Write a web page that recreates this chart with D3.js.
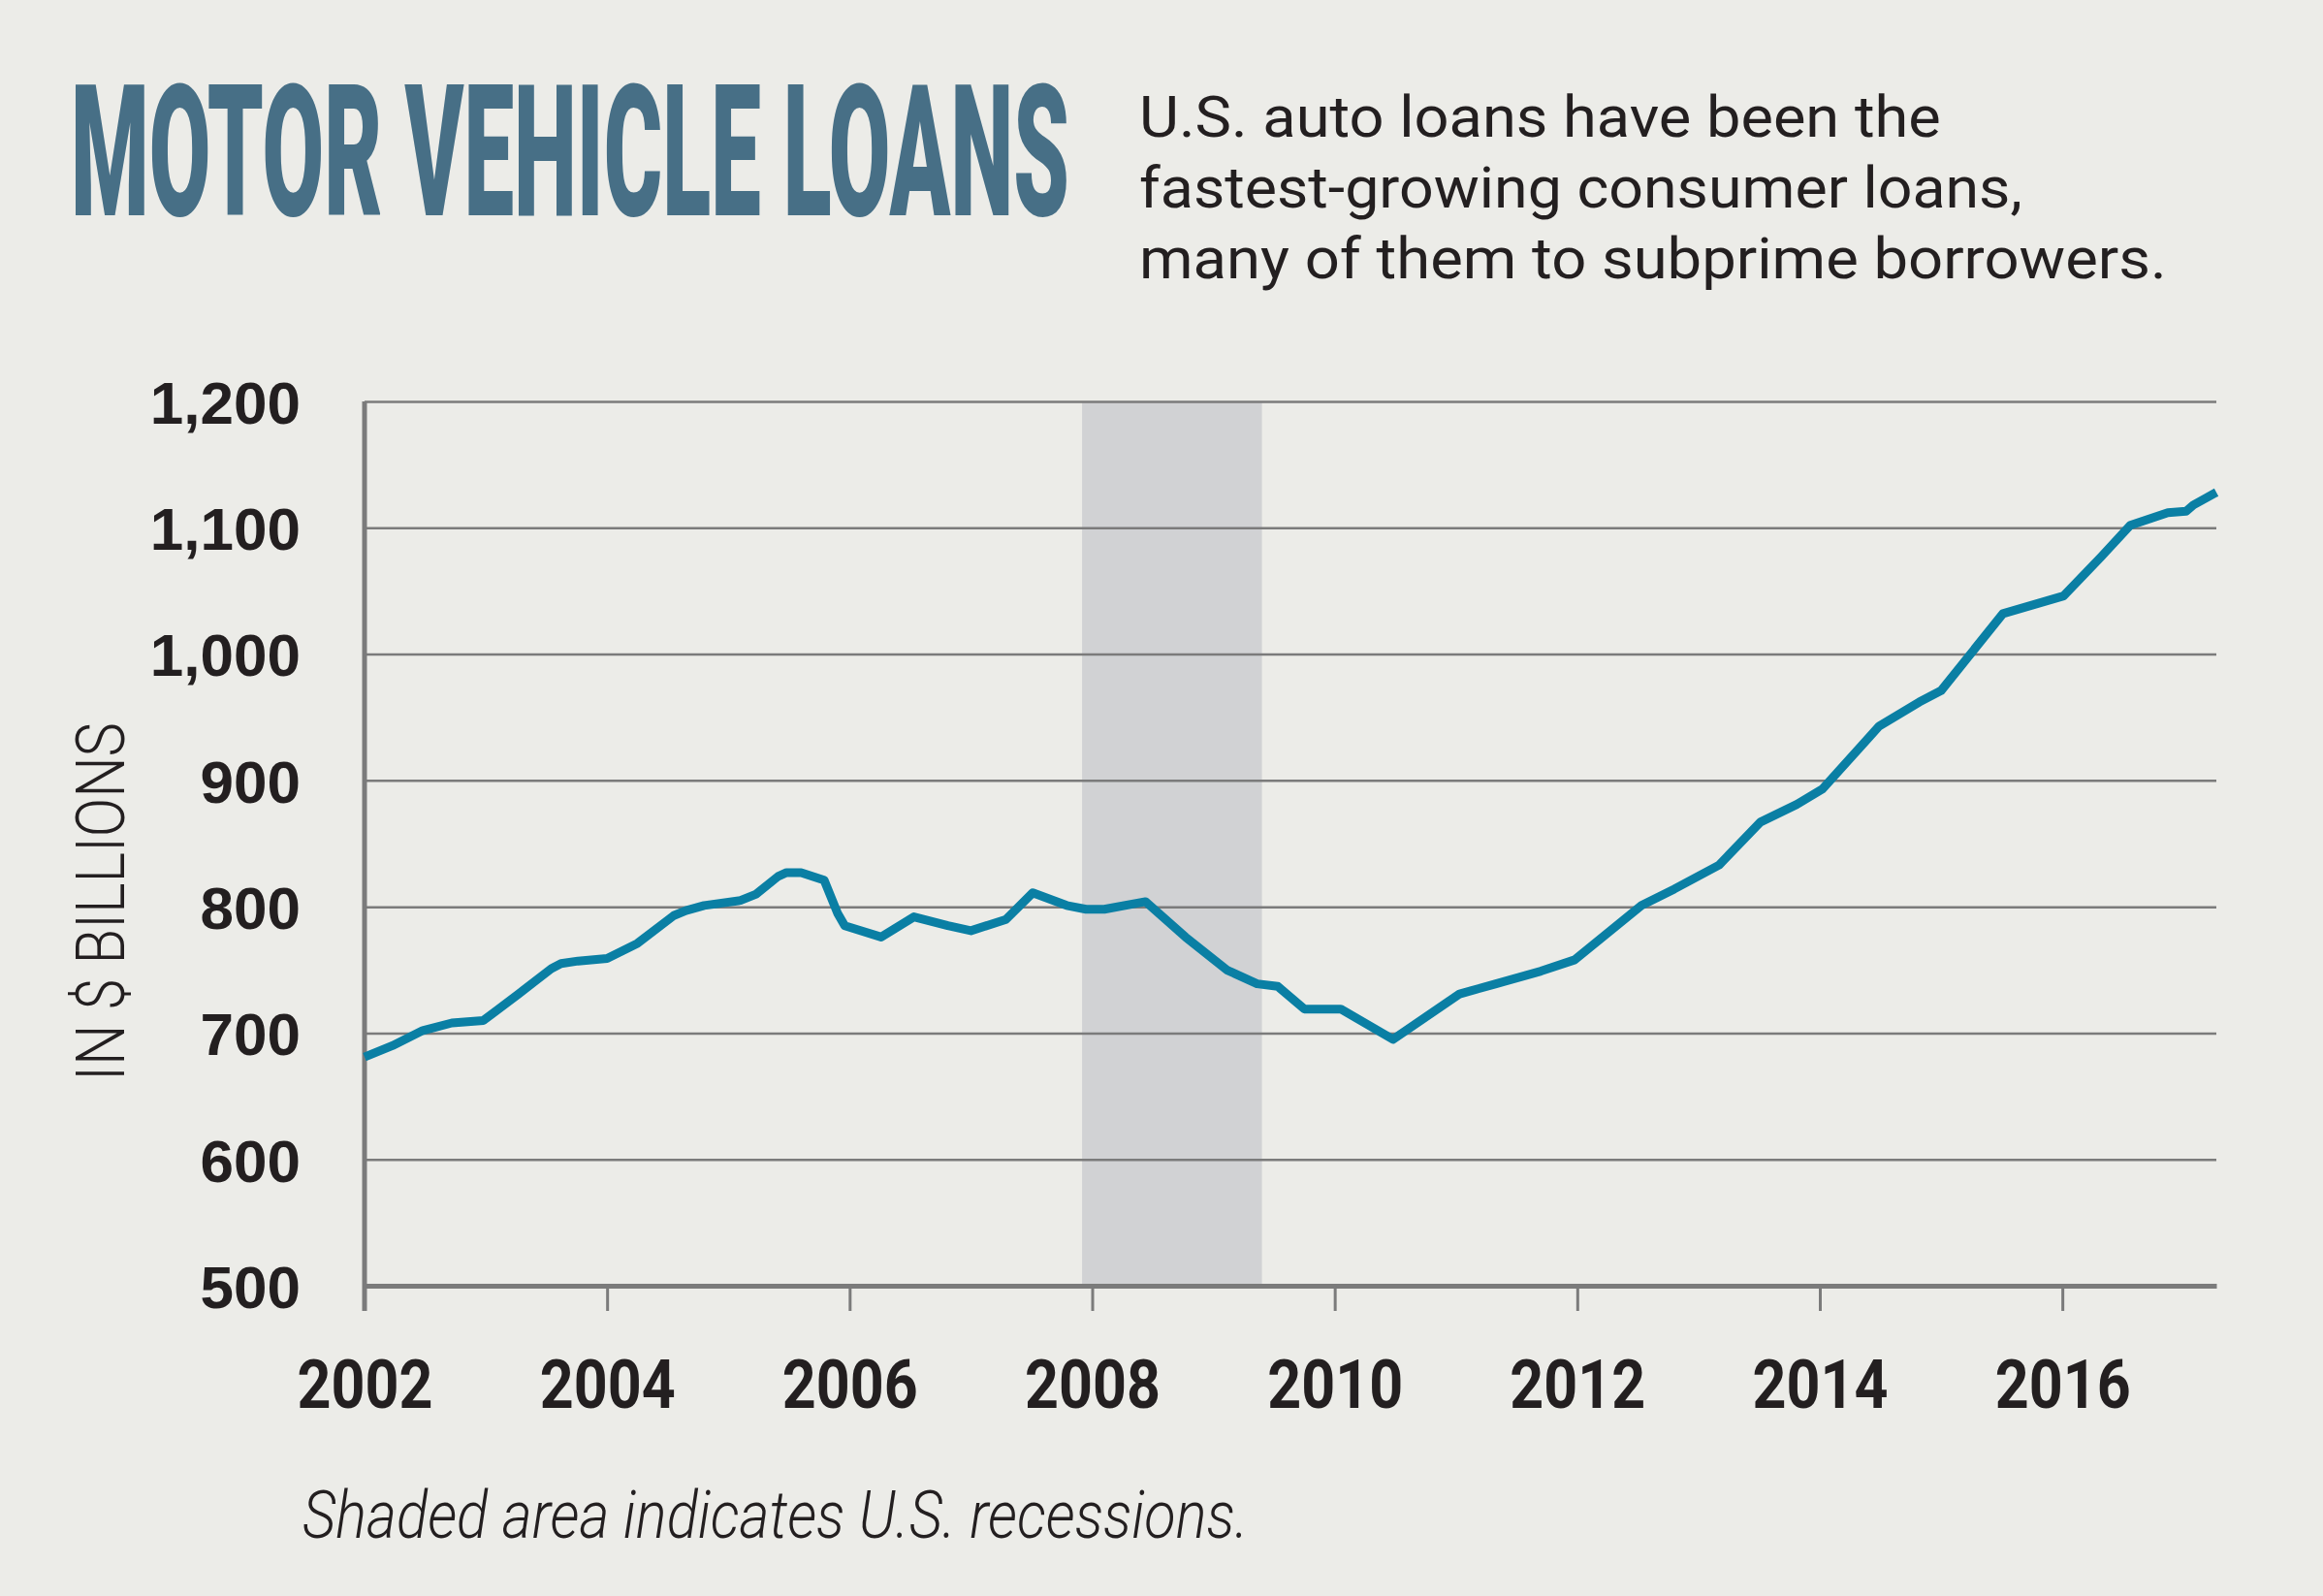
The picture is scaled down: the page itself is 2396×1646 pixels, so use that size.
<!DOCTYPE html>
<html>
<head>
<meta charset="utf-8">
<script src="https://cdn.jsdelivr.net/npm/d3@7"></script>
<style>
  html, body { margin: 0; padding: 0; background: #ecece8; }
  svg { display: block; }
</style>
</head>
<body>
<script>
// ---- data ----
const years = [2002.00, 2002.23, 2002.48, 2002.72, 2002.98, 2003.27, 2003.54, 2003.62, 2003.76, 2004.00,
  2004.25, 2004.55, 2004.65, 2004.80, 2005.10, 2005.23, 2005.41, 2005.48, 2005.60, 2005.79,
  2005.90, 2005.96, 2006.26, 2006.53, 2006.81, 2007.00, 2007.29, 2007.51, 2007.79, 2007.95,
  2008.10, 2008.44, 2008.77, 2009.11, 2009.36, 2009.53, 2009.75, 2010.05, 2010.48, 2011.03,
  2011.33, 2011.70, 2011.98, 2012.53, 2012.80, 2013.17, 2013.51, 2013.81, 2014.02, 2014.49,
  2014.82, 2015.00, 2015.51, 2016.01, 2016.32, 2016.56, 2016.87, 2017.02, 2017.08, 2017.27];
const loans = [681, 690, 702, 708, 710, 731, 751, 755, 757, 759,
  771, 793, 797, 801, 805, 810, 824, 827, 827, 821,
  795, 785, 776, 792, 785, 781, 790, 811, 801, 798,
  798, 804, 776, 750, 739, 737, 719, 719, 695, 731,
  739, 749, 758, 801, 814, 833, 867, 881, 893, 943,
  962, 971, 1032, 1046, 1077, 1102, 1112, 1113, 1118, 1128];
const recession = [2007.917, 2009.40];
const yTicks = [500, 600, 700, 800, 900, 1000, 1100, 1200];
const xTicks = [2002, 2004, 2006, 2008, 2010, 2012, 2014, 2016];
const titleText = "MOTOR VEHICLE LOANS";
const subtitleLines = ["U.S. auto loans have been the", "fastest-growing consumer loans,", "many of them to subprime borrowers."];
const yTitle = "IN $ BILLIONS";
const footnote = "Shaded area indicates U.S. recessions.";

// ---- layout ----
const W = 2396, H = 1646;
const svg = d3.select("body").append("svg").attr("width", W).attr("height", H);
svg.append("rect").attr("width", W).attr("height", H).attr("fill", "#ecece8");

const x = d3.scaleLinear().domain([2002, years[years.length - 1]]).range([376, 2286]);
const y = d3.scaleLinear().domain([500, 1200]).range([1326, 414]);
const gridColor = "#7b7b7b";

// place text at (tx,ty) and squeeze it horizontally to a target width
function fitText(sel, tx, ty, width, rotate) {
  const natural = sel.node().getComputedTextLength();
  const k = width / natural;
  sel.attr("x", 0).attr("y", 0)
    .attr("transform", `translate(${tx},${ty})` + (rotate ? ` rotate(${rotate})` : "") + ` scale(${k},1)`);
}

// title
fitText(svg.append("text").text(titleText)
  .attr("font-family", "Roboto, 'Liberation Sans Narrow', sans-serif")
  .attr("font-weight", 900).attr("font-size", 190)
  .attr("fill", "#476f86"), 73, 222, 1030);

// subtitle
const subW = [827, 911, 1060];
const subY = [141, 214, 287];
subtitleLines.forEach((s, i) => {
  fitText(svg.append("text").text(s)
    .attr("font-family", "Roboto, sans-serif").attr("font-weight", 400)
    .attr("font-size", 60).attr("fill", "#231f20"), 1175, subY[i], subW[i]);
});

// recession band
svg.append("rect")
  .attr("x", x(recession[0])).attr("width", x(recession[1]) - x(recession[0]))
  .attr("y", y(1200)).attr("height", y(500) - y(1200))
  .attr("fill", "#d1d2d4");

// y grid + labels
const yAxis = svg.append("g").attr("transform", `translate(${x.range()[0]},0)`)
  .call(d3.axisLeft(y).tickValues(yTicks).tickSize(-(x.range()[1] - x.range()[0]))
    .tickPadding(66).tickFormat(d3.format(",")));
yAxis.select(".domain").remove();
yAxis.selectAll(".tick line").attr("stroke", gridColor).attr("stroke-width", 2.5);
yAxis.selectAll(".tick text")
  .attr("font-family", "'Liberation Sans', Arial, sans-serif").attr("font-weight", 700)
  .attr("font-size", 62).attr("fill", "#231f20").attr("dy", "0.36em");

// x axis
const xAxis = svg.append("g").attr("transform", `translate(0,${y.range()[0]})`)
  .call(d3.axisBottom(x).tickValues(xTicks).tickSize(26).tickSizeOuter(0)
    .tickPadding(100).tickFormat(d3.format("d")));
xAxis.select(".domain").attr("stroke", gridColor).attr("stroke-width", 5);
xAxis.selectAll(".tick line").attr("stroke", gridColor).attr("stroke-width", 3);
xAxis.selectAll(".tick text")
  .attr("font-family", "Roboto, sans-serif").attr("font-weight", 700)
  .attr("font-size", 70).attr("fill", "#231f20").attr("dy", "0")
  .attr("textLength", 140).attr("lengthAdjust", "spacingAndGlyphs");

// y axis line
svg.append("line")
  .attr("x1", x.range()[0]).attr("x2", x.range()[0])
  .attr("y1", y(1200)).attr("y2", y.range()[0] + 26)
  .attr("stroke", gridColor).attr("stroke-width", 5);

// y title
fitText(svg.append("text").text(yTitle)
  .attr("text-anchor", "middle")
  .attr("font-family", "Roboto, sans-serif").attr("font-weight", 300)
  .attr("font-size", 70).attr("fill", "#231f20"), 128, 930, 370, -90);

// line
const pts = years.map((yr, i) => [yr, loans[i]]);
svg.append("path").datum(pts)
  .attr("d", d3.line().x(d => x(d[0])).y(d => y(d[1])))
  .attr("fill", "none").attr("stroke", "#0a7fa4").attr("stroke-width", 9)
  .attr("stroke-linejoin", "round");

// footnote
fitText(svg.append("text").text(footnote)
  .attr("font-family", "Roboto, sans-serif").attr("font-weight", 300).attr("font-style", "italic")
  .attr("font-size", 68).attr("fill", "#231f20"), 312, 1586, 976);
</script>
</body>
</html>
